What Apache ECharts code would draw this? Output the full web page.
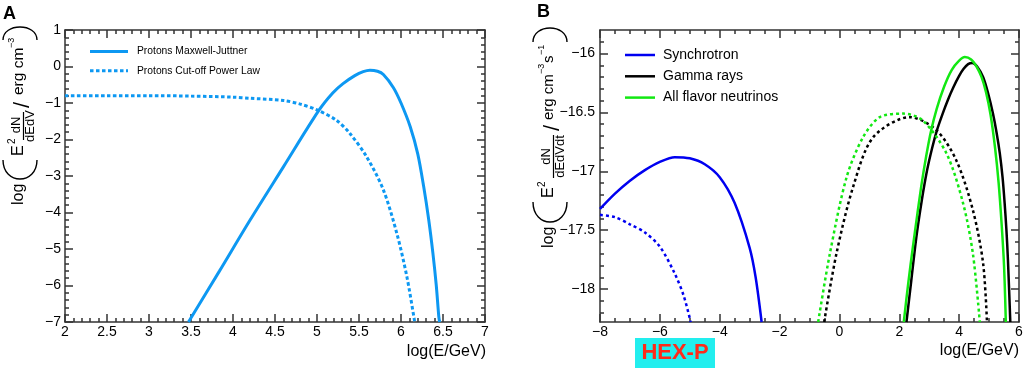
<!DOCTYPE html>
<html><head><meta charset="utf-8">
<script src="https://cdn.jsdelivr.net/npm/echarts@6/dist/echarts.min.js"></script>
<style>html,body{margin:0;padding:0;background:#fff}#c{width:1024px;height:370px}</style>
</head><body><div id="c"></div>
<script>
// ---------- Panel A data : [log(E/GeV), log(E^2 dN/dEdV)] ----------
const protonsMaxwellJuttner = [[3.47,-7.0],[3.84,-5.60],[4.20,-4.22],[4.60,-2.75],[5.02,-1.21],[5.19,-0.72],[5.31,-0.47],[5.45,-0.25],[5.55,-0.14],[5.63,-0.10],[5.72,-0.13],[5.79,-0.22],[5.91,-0.58],[6.0,-1.0],[6.11,-1.65],[6.2,-2.4],[6.27,-3.29],[6.33,-4.2],[6.38,-5.12],[6.42,-6.0],[6.45,-6.85],[6.46,-7.0]];
const protonsCutoffPowerLaw = [[2.0,-0.80],[2.5,-0.80],[3.0,-0.80],[3.5,-0.81],[4.0,-0.84],[4.2,-0.87],[4.6,-0.93],[4.8,-1.03],[5.0,-1.19],[5.23,-1.47],[5.39,-1.83],[5.59,-2.47],[5.79,-3.38],[5.95,-4.57],[6.07,-5.76],[6.16,-6.95],[6.165,-7.0]];
// ---------- Panel B data : [log(E/GeV), log(E^2 dN/dEdVdt)] ----------
const synchrotronMJ = [[-8,-17.32],[-7.5,-17.19],[-7,-17.08],[-6.5,-16.99],[-6,-16.92],[-5.5,-16.88],[-5,-16.89],[-4.5,-16.94],[-4,-17.05],[-3.5,-17.27],[-3,-17.65],[-2.8,-17.90],[-2.6,-18.28]];
const synchrotronPL = [[-8,-17.37],[-7.5,-17.39],[-7,-17.45],[-6.5,-17.52],[-6,-17.64],[-5.5,-17.87],[-5.2,-18.06],[-4.97,-18.28]];
const gammaMJ = [[2.24,-18.28],[2.4,-17.93],[2.57,-17.56],[2.75,-17.25],[2.93,-16.99],[3.1,-16.80],[3.26,-16.65],[3.45,-16.51],[3.63,-16.39],[3.8,-16.29],[4.0,-16.19],[4.15,-16.13],[4.3,-16.09],[4.44,-16.08],[4.6,-16.11],[4.8,-16.20],[4.97,-16.34],[5.13,-16.51],[5.25,-16.67],[5.36,-16.85],[5.45,-17.05],[5.52,-17.27],[5.58,-17.5],[5.63,-17.75],[5.71,-18.28]];
const gammaPL = [[-0.51,-18.28],[-0.10,-17.70],[0.46,-17.13],[1.13,-16.71],[2.35,-16.54],[3.24,-16.65],[3.91,-16.91],[4.46,-17.33],[4.80,-17.78],[4.93,-18.28]];
const neutrinoMJ = [[2.15,-18.28],[2.3,-17.95],[2.45,-17.65],[2.6,-17.37],[2.75,-17.10],[2.9,-16.87],[3.05,-16.67],[3.25,-16.47],[3.5,-16.28],[3.75,-16.14],[4.0,-16.06],[4.19,-16.03],[4.4,-16.05],[4.58,-16.11],[4.75,-16.2],[4.9,-16.33],[5.05,-16.52],[5.2,-16.8],[5.32,-17.1],[5.42,-17.45],[5.5,-17.8],[5.56,-18.28]];
const neutrinoPL = [[-0.71,-18.28],[-0.32,-17.70],[0.24,-17.05],[0.79,-16.71],[1.35,-16.54],[2.13,-16.51],[2.79,-16.57],[3.58,-16.85],[4.13,-17.27],[4.46,-17.70],[4.69,-18.28]];
// ---------- axis ranges and ticks ----------
const xRangeA = [2, 7], yRangeA = [-7, 1];
const xRangeB = [-8, 6], yRangeB = [-18.28, -15.8];
const yMajorTicksB = [-18, -17.5, -17, -16.5, -16];
const yMinorTicksB = [];
for (let k = -182; k <= -159; k++) { if (k % 5 !== 0) yMinorTicksB.push(k / 10); }

const FONT = 'Liberation Sans, Arial, Helvetica, sans-serif';
const fmt = v => String(v).replace('-', '\u2212');
const AL = () => ({color:'#333', width:1.5});

function xAx(grid, pos, range, interval, minorSplit, showLabel) {
  return {type:'value', gridIndex:grid, position:pos, min:range[0], max:range[1], interval:interval,
    axisLine:{show:true, onZero:false, lineStyle:AL()},
    axisTick:{show:true, inside:true, length:8, lineStyle:AL()},
    minorTick:{show:true, splitNumber:minorSplit, length:4, lineStyle:AL()},
    splitLine:{show:false}, minorSplitLine:{show:false},
    axisLabel:{show:showLabel, margin:3, fontSize:14, fontFamily:FONT, color:'#000', formatter:fmt}};
}
function yAx(grid, pos, range, interval, minorSplit, showLabel, margin) {
  return {type:'value', gridIndex:grid, position:pos, min:range[0], max:range[1], interval:interval,
    axisLine:{show:true, onZero:false, lineStyle:AL()},
    axisTick:{show:true, inside:true, length:8, lineStyle:AL()},
    minorTick:{show:true, splitNumber:minorSplit, length:4, lineStyle:AL()},
    splitLine:{show:false}, minorSplitLine:{show:false},
    axisLabel:{show:showLabel, margin:margin, fontSize:14, fontFamily:FONT, color:'#000', formatter:fmt}};
}
function yAxCustom(grid, pos, range, ticks, len, showLabel, showLine) {
  return {type:'value', gridIndex:grid, position:pos, min:range[0], max:range[1],
    axisLine:{show:showLine, onZero:false, lineStyle:AL()},
    axisTick:{show:true, inside:true, length:len, lineStyle:AL(), customValues:ticks},
    splitLine:{show:false},
    axisLabel:{show:showLabel, margin:5, fontSize:14, fontFamily:FONT, color:'#000', formatter:fmt, customValues:ticks}};
}

const cA = '#0d98f2', cSyn = '#0000f0', cGam = '#000000', cNu = '#12e812';
function ln(name, data, color, width, dashed, xi, yi) {
  return {type:'line', name:name, data:data, xAxisIndex:xi, yAxisIndex:yi, showSymbol:false, symbol:'none',
    smooth:0.3, clip:true, animation:false, silent:true,
    lineStyle:{color:color, width:width, type: dashed ? dashed : 'solid'}, itemStyle:{color:color}};
}
// rotated y-axis titles: local u runs along the text, v across it
function tx(u, v, text, size, align) {
  return {type:'text', x:u, y:v, style:{text:text, font:size+'px '+FONT, fill:'#000', align:align||'left', verticalAlign:'middle'}};
}
function paren(uEnd, uBulge, v1, v2) {
  const b = (uBulge - 0.25*uEnd) / 0.75;
  return {type:'bezierCurve', shape:{x1:uEnd, y1:v1, cpx1:b, cpy1:v1, cpx2:b, cpy2:v2, x2:uEnd, y2:v2}, style:{stroke:'#000', lineWidth:1.4, fill:null}};
}
function fracLine(u1, u2, v) {
  return {type:'line', shape:{x1:u1, y1:v, x2:u2, y2:v}, style:{stroke:'#000', lineWidth:1.2}};
}
const titleA = {type:'group', x:19, y:207, rotation:Math.PI/2, children:[
  tx(2,0,'log',16), paren(47,28,-16,18), tx(51,0,'E',16), tx(63,-7,'2',10),
  tx(82,-3,'dN',13,'center'), fracLine(67,95,4.5), tx(81,11,'dEdV',13,'center'),
  tx(102,4,'/',22,'center'), tx(112,0,'erg cm',15.5), tx(159,-7,'\u22123',9), paren(167,180,-16,18)
]};
const titleB = {type:'group', x:549, y:250, rotation:Math.PI/2, children:[
  tx(2,0,'log',16), paren(48,28,-16,18), tx(52,0,'E',16), tx(63,-7,'2',10),
  tx(93.5,-3,'dN',13,'center'), fracLine(72,115,4.5), tx(93.5,11,'dEdVdt',13,'center'),
  tx(122,4,'/',22,'center'), tx(130,0,'erg cm',15), tx(176,-7,'\u22123',9), tx(187,0,'s',15), tx(195,-7,'\u22121',9),
  paren(208,222,-16,18)
]};
const solidIconA = 'path://M0,0h38v3h-38z';
const dotIconA = 'path://M0,0h3.5v3h-3.5zM6,0h3.5v3h-3.5zM12,0h3.5v3h-3.5zM18,0h3.5v3h-3.5zM24,0h3.5v3h-3.5zM30,0h3.5v3h-3.5zM36,0h2v3h-2z';
const solidIconB = 'path://M0,0h30v2.5h-30z';

const chart = echarts.init(document.getElementById('c'), null, {renderer:'canvas'});
chart.setOption({
  animation:false, backgroundColor:'#fff', textStyle:{fontFamily:FONT},
  grid:[
    {left:65, top:30, width:420, height:292, outerBoundsMode:'none'},
    {left:600, top:30, width:419, height:292, outerBoundsMode:'none'}
  ],
  xAxis:[ xAx(0,'bottom',xRangeA,0.5,5,true), xAx(0,'top',xRangeA,0.5,5,false), xAx(1,'bottom',xRangeB,2,4,true), xAx(1,'top',xRangeB,2,4,false) ],
  yAxis:[
    yAx(0,'left',yRangeA,1,5,true,4), yAx(0,'right',yRangeA,1,5,false,4),
    yAxCustom(1,'left',yRangeB,yMajorTicksB,8,true,true), yAxCustom(1,'left',yRangeB,yMinorTicksB,4,false,false),
    yAxCustom(1,'right',yRangeB,yMajorTicksB,8,false,true), yAxCustom(1,'right',yRangeB,yMinorTicksB,4,false,false)
  ],
  legend:[
    {data:[{name:'Protons Maxwell-Juttner', icon:solidIconA},{name:'Protons Cut-off Power Law', icon:dotIconA}], orient:'vertical', left:90, top:46.5,
     itemWidth:38, itemHeight:3, itemGap:9.3, padding:0, selectedMode:false,
     textStyle:{fontSize:10.3, fontFamily:FONT, color:'#000', padding:[0,0,0,4]}},
    {data:[{name:'Synchrotron', icon:solidIconB},{name:'Gamma rays', icon:solidIconB},{name:'All flavor neutrinos', icon:solidIconB}], orient:'vertical', left:625, top:48,
     itemWidth:30, itemHeight:2.5, itemGap:7.3, padding:0, selectedMode:false,
     textStyle:{fontSize:14, fontFamily:FONT, color:'#000', padding:[0,0,0,3]}}
  ],
  series:[
    ln('Protons Maxwell-Juttner', protonsMaxwellJuttner, cA, 3, null, 0, 0),
    ln('Protons Cut-off Power Law', protonsCutoffPowerLaw, cA, 3, [3.5,2.5], 0, 0),
    ln('Synchrotron', synchrotronMJ, cSyn, 2.5, null, 2, 2),
    ln('Synchrotron (power law)', synchrotronPL, cSyn, 2.5, [3,3], 2, 2),
    ln('Gamma rays', gammaMJ, cGam, 2.5, null, 2, 2),
    ln('Gamma rays (power law)', gammaPL, cGam, 2.5, [3,3], 2, 2),
    ln('All flavor neutrinos', neutrinoMJ, cNu, 2.5, null, 2, 2),
    ln('All flavor neutrinos (power law)', neutrinoPL, cNu, 2.5, [3,3], 2, 2)
  ],
  graphic:[
    titleA, titleB,
    {type:'text', x:486, y:352, style:{text:'log(E/GeV)', font:'16px '+FONT, fill:'#000', align:'right', verticalAlign:'middle'}},
    {type:'text', x:1019, y:351, style:{text:'log(E/GeV)', font:'16px '+FONT, fill:'#000', align:'right', verticalAlign:'middle'}},
    {type:'text', x:3, y:14, style:{text:'A', font:'bold 18px '+FONT, fill:'#000', align:'left', verticalAlign:'middle'}},
    {type:'text', x:537, y:12, style:{text:'B', font:'bold 18px '+FONT, fill:'#000', align:'left', verticalAlign:'middle'}},
    {type:'rect', shape:{x:635, y:338, width:80, height:30}, style:{fill:'#22eeee'}},
    {type:'text', x:675, y:353, style:{text:'HEX-P', font:'bold 22px '+FONT, fill:'#ff2a1a', align:'center', verticalAlign:'middle'}}
  ]
});
</script></body></html>
